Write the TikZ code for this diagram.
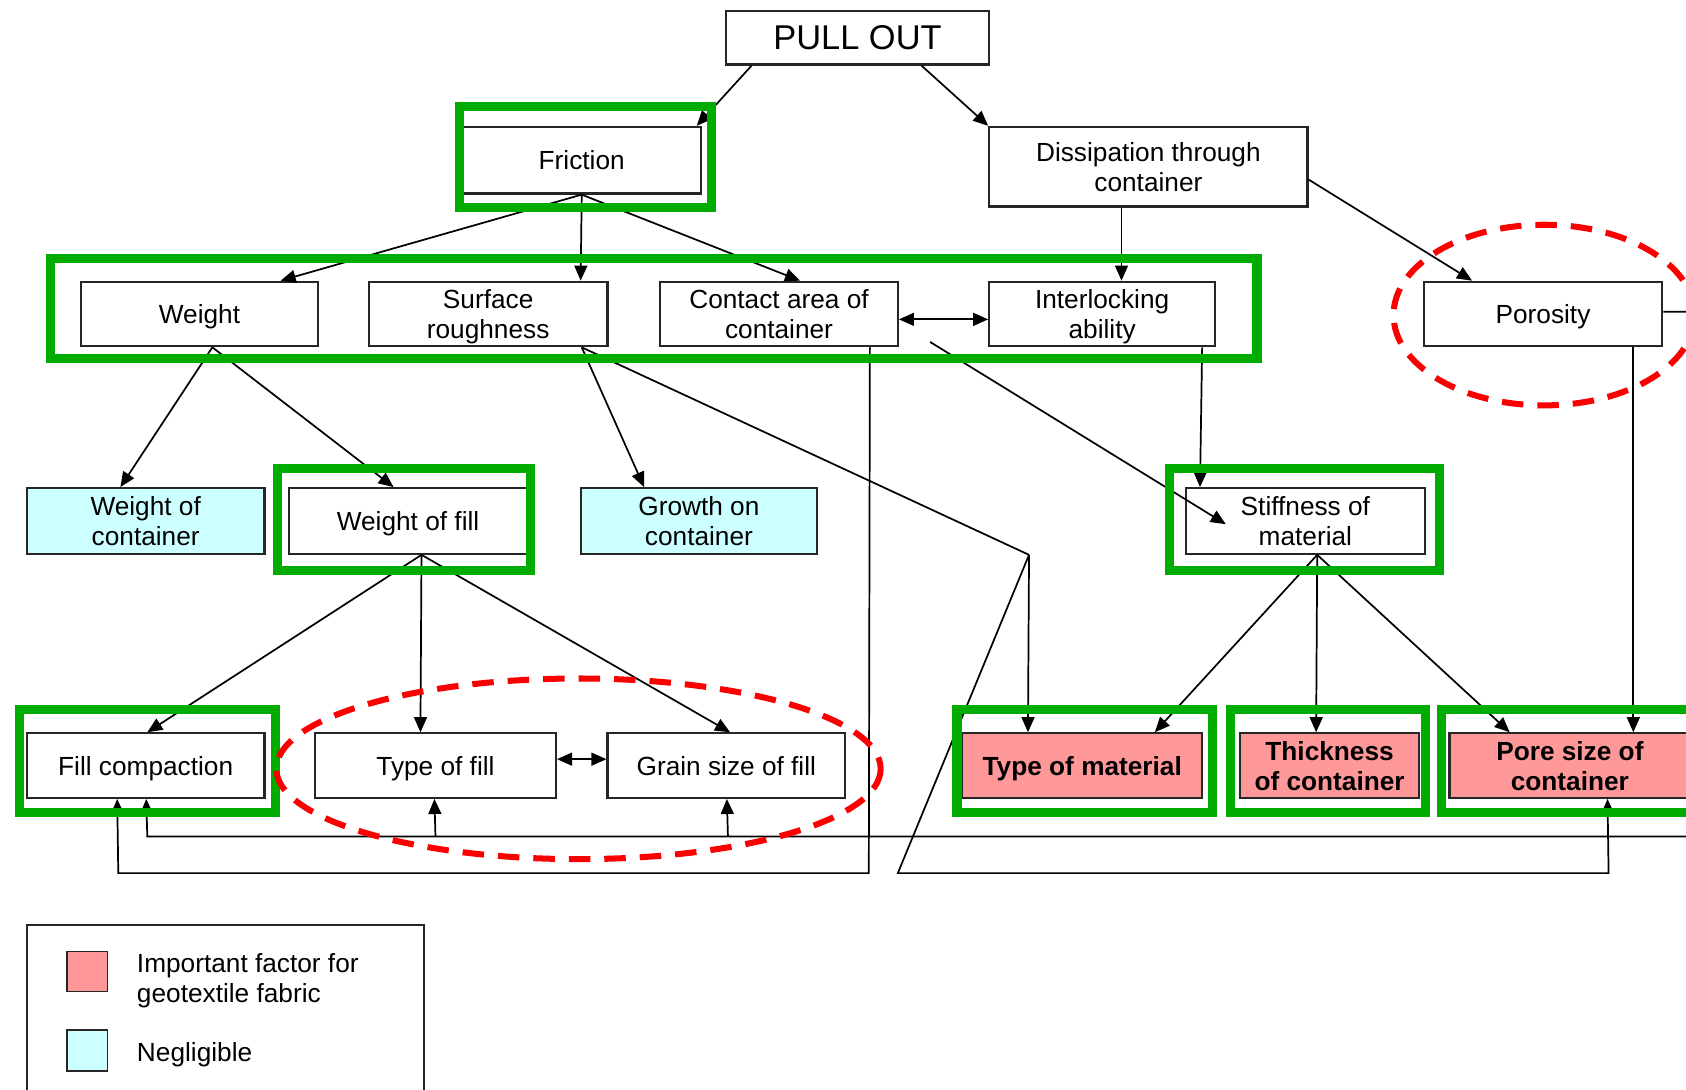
\documentclass[tikz,border=0pt]{standalone}
\usepackage{fontspec}
\setmainfont{Liberation Sans}
\usetikzlibrary{arrows.meta,calc}
\definecolor{gbox}{RGB}{0,172,0}
\definecolor{rdash}{RGB}{250,0,0}
\definecolor{pinkf}{RGB}{255,153,153}
\definecolor{cyanf}{RGB}{204,255,255}
\begin{document}
\begin{tikzpicture}[x=0.5pt,y=-0.5pt,
  font=\fontsize{12.2}{14}\selectfont,
  box/.style={draw=black!85, line width=1pt, align=center, inner sep=0pt, fill=white, text depth=-3pt},
  imp/.style={box, fill=pinkf, font=\fontsize{12.2}{14}\selectfont\bfseries},
  negl/.style={box, fill=cyanf},
  conn/.style={draw=black, line width=0.8pt},
  arr/.style={conn, -{Triangle[length=7pt,width=6pt]}},
  darr/.style={conn, {Triangle[length=7pt,width=6pt]}-{Triangle[length=7pt,width=6pt]}},
  gframe/.style={draw=gbox, line width=4.2pt},
  rframe/.style={draw=rdash, line width=2.8pt, dash pattern=on 10pt off 6.5pt}
]
\useasboundingbox[fill=white] (0,0) rectangle (1568,1013);

% ---------- nodes ----------
\node[box, minimum width=122.5pt, minimum height=25pt, font=\fontsize{16}{18}\selectfont] (pull) at (797.5,35) {PULL OUT};
\node[box, minimum width=111pt, minimum height=31pt] (fric) at (541,149) {Friction};
\node[box, minimum width=148pt, minimum height=37pt] (diss) at (1068,155) {Dissipation through\\container};

\node[box, minimum width=110.5pt, minimum height=30pt] (weight) at (185.5,292) {Weight};
\node[box, minimum width=111pt, minimum height=30pt] (surf) at (454,292) {Surface\\roughness};
\node[box, minimum width=110.5pt, minimum height=30pt] (contact) at (724.5,292) {Contact area of\\container};
\node[box, minimum width=105pt, minimum height=30pt] (inter) at (1025,292) {Interlocking\\ability};
\node[box, minimum width=111pt, minimum height=30pt] (poro) at (1435,292) {Porosity};

\node[negl, minimum width=110.5pt, minimum height=30.5pt] (wcont) at (135.5,484.5) {Weight of\\container};
\node[box, minimum width=110.5pt, minimum height=30.5pt] (wfill) at (379.5,484.5) {Weight of fill};
\node[negl, minimum width=110pt, minimum height=30.5pt] (growth) at (650,484.5) {Growth on\\container};
\node[box, minimum width=111pt, minimum height=30.5pt] (stiff) at (1214,484.5) {Stiffness of\\material};

\node[box, minimum width=110.5pt, minimum height=30pt] (fillc) at (135.5,712) {Fill compaction};
\node[box, minimum width=112pt, minimum height=30pt] (tfill) at (405,712) {Type of fill};
\node[box, minimum width=110.5pt, minimum height=30pt] (grain) at (675.5,712) {Grain size of fill};
\node[imp, minimum width=111.5pt, minimum height=30pt] (tmat) at (1006.5,712) {Type of material};
\node[imp, minimum width=83.5pt, minimum height=30pt] (thick) at (1236.5,712) {Thickness\\of container};
\node[imp, minimum width=112pt, minimum height=30pt] (pore) at (1460,712) {Pore size of\\container};

% ---------- connectors ----------
\draw[arr] ($(pull.south west)+(25,0)$) -- ($(fric.north east)+(-5,0)$);
\draw[arr] ($(pull.south west)+(183,0)$) -- (diss.north west);

\draw[arr] (fric.south) -- ($(weight.north west)+(187,0)$);
\draw[arr] (fric.south) -- ($(surf.north west)+(198,0)$);
\draw[arr] (fric.south) -- ($(contact.north west)+(131,0)$);

\draw[arr] ($(diss.south)+(-25,0)$) -- ($(inter.north)+(18,0)$);
\draw[arr] ($(diss.north east)+(0,50)$) -- ($(poro.north west)+(46,0)$);
\draw[darr] ($(contact.east)+(0,5)$) -- ($(inter.west)+(0,5)$);

\draw[arr] ($(weight.south)+(12,0)$) -- ($(wcont.north west)+(88,0)$);
\draw[arr] ($(weight.south)+(12,0)$) -- ($(wfill.north west)+(98,0)$);
\draw[arr] ($(surf.south east)+(-25,0)$) -- ($(growth.north west)+(60,0)$);

\coordinate (bend) at (957,516);
\draw[conn] ($(surf.south east)+(-25,0)$) -- (bend);
\draw[arr] (bend) -- ($(tmat.north west)+(62,0)$);
\draw[arr] (bend) -- (835,812) -- (1496,812) -- ($(pore.south west)+(148,0)$);

\draw[arr] ($(contact.south east)+(-27,0)$) -- (808,812) -- (110,812) -- ($(fillc.south west)+(85,0)$);

\coordinate (cstart) at (865,318);
\draw[arr] (cstart) -- ($(stiff.west)+(38,3)$);
\draw[arr] ($(inter.south east)+(-13,0)$) -- ($(stiff.north west)+(14,0)$);

\draw[arr] ($(wfill.south)+(12.5,0)$) -- ($(fillc.north)+(1.5,0)$);
\draw[arr] ($(wfill.south)+(12.5,0)$) -- ($(tfill.north west)+(99,0)$);
\draw[arr] ($(wfill.south)+(12.5,0)$) -- ($(grain.north west)+(115,0)$);
\draw[darr] ($(tfill.east)+(0,-6)$) -- ($(grain.west)+(0,-6)$);

\draw[arr] ($(stiff.south)+(11,0)$) -- ($(tmat.north west)+(180,0)$);
\draw[arr] ($(stiff.south)+(11,0)$) -- ($(thick.north west)+(72,0)$);
\draw[arr] ($(stiff.south)+(11,0)$) -- ($(pore.north west)+(57,0)$);
\draw[arr] ($(poro.south west)+(196,0)$) -- ($(pore.north west)+(172,0)$);

\coordinate (busR) at (1600,778);
\draw[arr] ($(poro.east)+(0,-2)$) -- (1600,290) -- (busR) -- (137,778) -- ($(fillc.south west)+(112,0)$);
\draw[arr] (405,778) -- ($(tfill.south west)+(112,0)$);
\draw[arr] (677,778) -- ($(grain.south west)+(112,0)$);

% ---------- highlight frames ----------
\draw[gframe] (427,99) rectangle (662,193);
\draw[gframe] (47,240) rectangle (1169,333);
\draw[gframe] (258,436) rectangle (493,531);
\draw[gframe] (1088,436) rectangle (1339,531);
\draw[gframe] (18,660) rectangle (256,756);
\draw[gframe] (890,660) rectangle (1128,756);
\draw[gframe] (1144,660) rectangle (1326,756);
\draw[gframe] (1341,660) rectangle (1600,756);
\draw[rframe] (1436,293) ellipse [x radius=140, y radius=84];
\draw[rframe] (538,715) ellipse [x radius=281, y radius=84];

% ---------- legend ----------
\draw[line width=1pt, draw=black!85] (25,1030) -- (25,860) -- (394,860) -- (394,1030);
\node[draw=black!85, line width=0.8pt, fill=pinkf, minimum width=19pt, minimum height=18.5pt, inner sep=0pt] (lgp) at (81,903.5) {};
\node[draw=black!85, line width=0.8pt, fill=cyanf, minimum width=19pt, minimum height=19pt, inner sep=0pt] (lgc) at (81,977) {};
\node[anchor=west, align=left, inner sep=0pt] (lgpt) at (127,912) {Important factor for\\geotextile fabric};
\node[anchor=west, inner sep=0pt] (lgct) at (127,981) {Negligible};
\end{tikzpicture}
\end{document}
